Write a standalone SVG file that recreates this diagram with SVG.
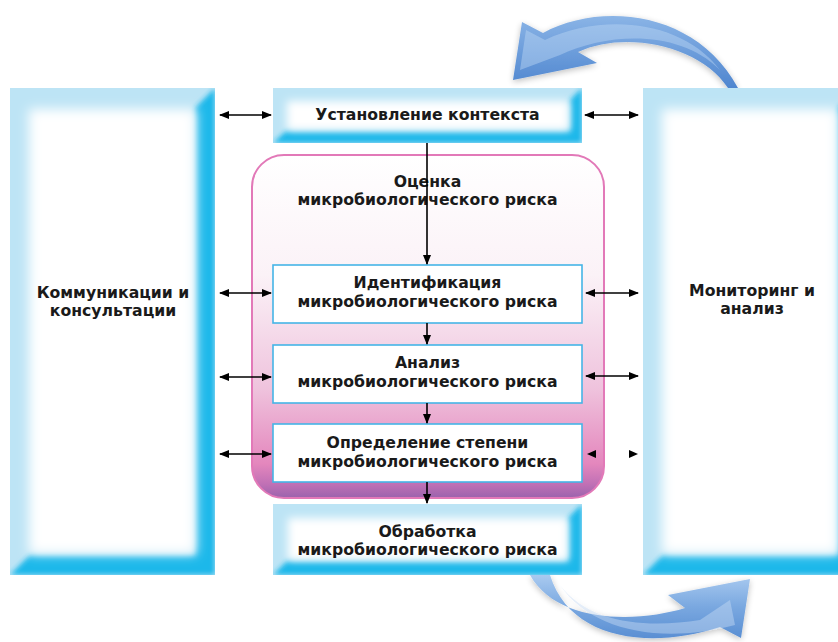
<svg xmlns="http://www.w3.org/2000/svg" width="838" height="642" viewBox="0 0 838 642">
<style>
.t{font-family:"DejaVu Sans","Liberation Sans",sans-serif;font-weight:bold;font-size:15.7px;fill:#1a1a1a;text-anchor:middle}
.ln{stroke:#000;stroke-width:1.6;fill:none}
.dbl{marker-start:url(#ah);marker-end:url(#ah)}
.one{marker-end:url(#ah)}
.frame{fill:#bde4f5}
.band{fill:#1ab8ea}
.inner{fill:#fff;stroke:#45b5e6;stroke-width:1.6}
</style>
<defs>
<marker id="ah" viewBox="0 0 10 8" refX="9" refY="4" markerWidth="10" markerHeight="8" markerUnits="userSpaceOnUse" orient="auto-start-reverse">
<path d="M0,0 L10,4 L0,8 z" fill="#000"/>
</marker>
<clipPath id="bb" clipPathUnits="objectBoundingBox"><rect x="0" y="0" width="1" height="1"/></clipPath>
<filter id="b6" x="-30%" y="-30%" width="160%" height="160%"><feGaussianBlur stdDeviation="6"/></filter>
<filter id="b4" x="-30%" y="-30%" width="160%" height="160%"><feGaussianBlur stdDeviation="4"/></filter>
<filter id="b2" x="-30%" y="-30%" width="160%" height="160%"><feGaussianBlur stdDeviation="2.5"/></filter>
<filter id="sh" x="-20%" y="-20%" width="140%" height="140%"><feGaussianBlur in="SourceAlpha" stdDeviation="3"/><feOffset dx="0" dy="2"/><feComponentTransfer><feFuncA type="linear" slope="0.25"/></feComponentTransfer><feMerge><feMergeNode/><feMergeNode in="SourceGraphic"/></feMerge></filter>
<linearGradient id="pink" x1="0" y1="0" x2="0" y2="1">
<stop offset="0" stop-color="#ffffff"/>
<stop offset="0.35" stop-color="#fbf2f7"/>
<stop offset="0.68" stop-color="#efc3dd"/>
<stop offset="0.9" stop-color="#e487bd"/>
<stop offset="0.96" stop-color="#c070b5"/>
<stop offset="1" stop-color="#9a63ad"/>
</linearGradient>
<linearGradient id="blueA" x1="0" y1="0" x2="0" y2="1">
<stop offset="0" stop-color="#8ab4e6"/>
<stop offset="0.45" stop-color="#6f9fdc"/>
<stop offset="1" stop-color="#4f86cf"/>
</linearGradient>
<linearGradient id="blueB" x1="0" y1="1" x2="0" y2="0">
<stop offset="0" stop-color="#5a8fd3"/>
<stop offset="0.5" stop-color="#7aa8e0"/>
<stop offset="1" stop-color="#a9caf0"/>
</linearGradient>
</defs>

<g id="arrow-top" filter="url(#sh)">
<path d="M513,80 L522,22 L543,33 C600,2 696,10 738,88 L728,88 C700,45 625,30 578,52 L597,63 Z" fill="url(#blueA)"/>
<path d="M520,70 L526,30 L545,40 C600,14 680,18 720,70 C680,30 610,32 560,55 Z" fill="#bcd6f4" opacity="0.45"/>
</g>
<g id="arrow-bottom" filter="url(#sh)">
<path d="M530,575 C558,625 640,622 685,608 L668,595 L750,579 L741,638 L720,627 C650,650 570,640 550,575 Z" fill="url(#blueB)"/>
<path d="M560,585 C590,625 650,628 700,620 L730,600 L735,625 C660,645 590,630 560,585 Z" fill="#c7dcf5" opacity="0.45"/>
</g>

<g id="comm">
<g clip-path="url(#bb)">
<rect class="frame" x="10" y="88" width="205" height="487"/>
<polygon class="band" points="215,88 215,575 10,575 30,555 195,555 195,108" filter="url(#b2)"/>
<rect x="29" y="109" width="167" height="445" fill="#fff" filter="url(#b6)"/>
</g>
<text class="t" x="113" y="298">Коммуникации и</text>
<text class="t" x="113" y="316">консультации</text>
</g>

<g id="monitor">
<g clip-path="url(#bb)">
<rect class="frame" x="643" y="88" width="215" height="487"/>
<polygon class="band" points="858,88 858,575 643,575 663,555 838,555 838,108" filter="url(#b2)"/>
<rect x="662" y="109" width="176" height="445" fill="#fff" filter="url(#b6)"/>
</g>
<text class="t" x="752" y="296">Мониторинг и</text>
<text class="t" x="752" y="314">анализ</text>
</g>

<g id="context">
<g clip-path="url(#bb)">
<rect class="frame" x="273" y="88" width="309" height="55"/>
<polygon class="band" points="582,88 582,143 273,143 286,131 570,131 570,100" filter="url(#b2)"/>
<rect x="287" y="101" width="282" height="29" fill="#fff" filter="url(#b4)"/>
</g>
<text class="t" x="427.5" y="120">Установление контекста</text>
</g>

<g id="assessment">
<rect x="252" y="155" width="352" height="343" rx="32" fill="url(#pink)" stroke="#e279b8" stroke-width="2"/>
<text class="t" x="427.5" y="187">Оценка</text>
<text class="t" x="427.5" y="205">микробиологического риска</text>
</g>

<g id="identification">
<rect class="inner" x="273" y="265" width="309" height="58"/>
<text class="t" x="427.5" y="288">Идентификация</text>
<text class="t" x="427.5" y="307">микробиологического риска</text>
</g>

<g id="analysis">
<rect class="inner" x="273" y="345" width="309" height="58"/>
<text class="t" x="427.5" y="368">Анализ</text>
<text class="t" x="427.5" y="387">микробиологического риска</text>
</g>

<g id="evaluation">
<rect class="inner" x="273" y="424" width="309" height="58"/>
<text class="t" x="427.5" y="448">Определение степени</text>
<text class="t" x="427.5" y="467">микробиологического риска</text>
</g>

<g id="treatment">
<g clip-path="url(#bb)">
<rect class="frame" x="273" y="504" width="309" height="71"/>
<polygon class="band" points="582,504 582,575 273,575 287,561 568,561 568,518" filter="url(#b2)"/>
<rect x="288" y="518" width="280" height="42" fill="#fff" filter="url(#b4)"/>
</g>
<text class="t" x="427.5" y="537">Обработка</text>
<text class="t" x="427.5" y="555">микробиологического риска</text>
</g>

<g id="connectors">
<line class="ln dbl" x1="220" y1="115" x2="271" y2="115"/>
<line class="ln dbl" x1="585" y1="115" x2="638" y2="115"/>
<line class="ln dbl" x1="220" y1="293" x2="271" y2="293"/>
<line class="ln dbl" x1="220" y1="377" x2="271" y2="377"/>
<line class="ln dbl" x1="220" y1="454" x2="271" y2="454"/>
<line class="ln dbl" x1="586" y1="293" x2="638" y2="293"/>
<line class="ln dbl" x1="586" y1="376" x2="638" y2="376"/>
<polygon points="587,454 596,450 596,458" fill="#000"/>
<polygon points="638,454 629,450 629,458" fill="#000"/>
<line class="ln one" x1="427" y1="143" x2="427" y2="264"/>
<line class="ln one" x1="427" y1="323" x2="427" y2="344"/>
<line class="ln one" x1="427" y1="403" x2="427" y2="423"/>
<line class="ln one" x1="427" y1="482" x2="427" y2="503"/>
</g>
</svg>
